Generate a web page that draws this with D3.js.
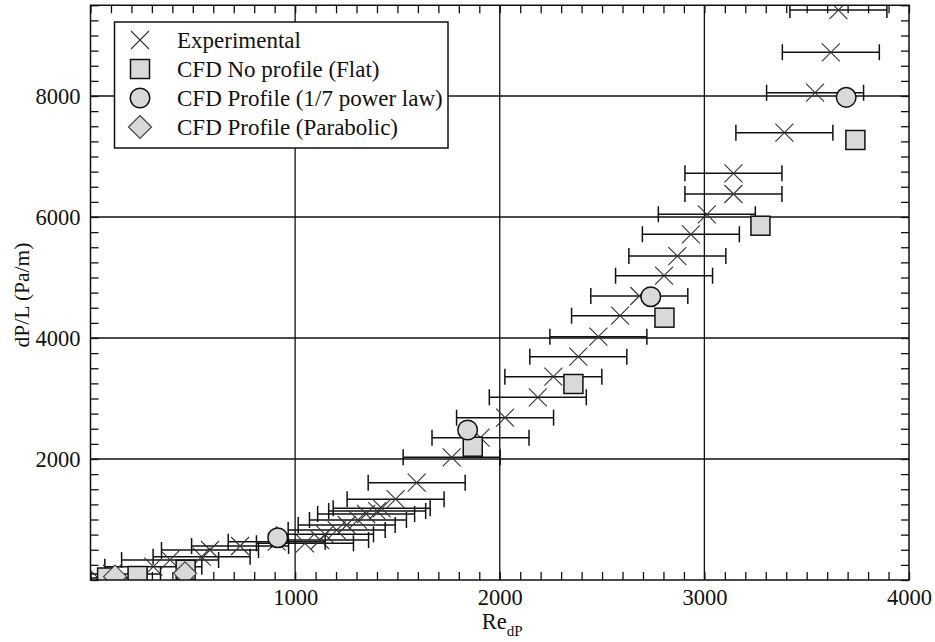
<!DOCTYPE html>
<html>
<head>
<meta charset="utf-8">
<script src="https://cdn.jsdelivr.net/npm/d3@7/dist/d3.min.js"></script>
<style>
  html, body { margin: 0; padding: 0; background: #fff; }
  svg { display: block; }
  text { font-family: 'Liberation Serif', serif; fill: #111; }
</style>
</head>
<body>
<svg id="chart" width="935" height="642"></svg>
<script>
// ---- Data ----
// Experimental points: Reynolds number and pressure gradient
const expRe = [37, 105, 307, 389, 543, 584, 731, 910, 1048, 1122, 1146, 1203, 1252, 1307, 1347, 1401, 1423, 1491, 1594, 1765, 1906, 2026, 2186, 2262, 2384, 2482, 2588, 2682, 2803, 2868, 2934, 3012, 3142, 3142, 3391, 3541, 3618, 3655];
const expDP = [33, 100, 220, 331, 385, 496, 562, 633, 607, 661, 755, 826, 909, 992, 1091, 1140, 1185, 1336, 1608, 2028, 2352, 2683, 3020, 3360, 3691, 4022, 4369, 4694, 5030, 5355, 5714, 6045, 6380, 6722, 7393, 8055, 8722, 9421];
const expErr = 237; // horizontal error bar half-width (Re units)

// CFD No profile (Flat)
const flatRe = [81, 230, 465, 1868, 2360, 2805, 3274, 3738];
const flatDP = [41, 66, 170, 2203, 3240, 4336, 5856, 7273];

// CFD Profile (1/7 power law)
const powRe = [915, 1843, 2738, 3693];
const powDP = [699, 2479, 4683, 7978];

// CFD Profile (Parabolic)
const parRe = [120, 462];
const parDP = [55, 110];

const xMajor = [1000, 2000, 3000, 4000];
const yMajor = [2000, 4000, 6000, 8000];
const legendLabels = ["Experimental", "CFD No profile (Flat)", "CFD Profile (1/7 power law)", "CFD Profile (Parabolic)"];

// ---- Chart ----
const FONT = "'Liberation Serif', serif";
const svg = d3.select("#chart");
const x = d3.scaleLinear().domain([0, 4000]).range([90.5, 909]);
const y = d3.scaleLinear().domain([0, 9500]).range([580, 5.25]);
const [x0, x1] = x.range();
const [y0, y1] = y.range();

const fillGray = "#d9d9d9";
const ink = "#111";

svg.append("defs").append("clipPath").attr("id", "plotclip")
  .append("rect").attr("x", x0).attr("y", y1).attr("width", x1 - x0).attr("height", y0 - y1);

// gridlines
const grid = svg.append("g").attr("stroke", ink).attr("stroke-width", 1.3);
grid.selectAll(".gx").data([1000, 2000, 3000]).join("line")
  .attr("x1", d => x(d)).attr("x2", d => x(d)).attr("y1", y0).attr("y2", y1);
grid.selectAll(".gy").data(yMajor).join("line")
  .attr("y1", d => y(d)).attr("y2", d => y(d)).attr("x1", x0).attr("x2", x1);

// minor ticks via axes
const xMinor = d3.range(0, 4001, 100);
const yMinor = d3.range(0, 9501, 250);
function styleAxis(g) {
  g.select(".domain").remove();
  g.selectAll(".tick line").attr("stroke", ink).attr("stroke-width", 1.3);
}
svg.append("g").attr("transform", `translate(0,${y0})`)
  .call(d3.axisBottom(x).tickValues(xMinor).tickSize(-8).tickFormat("")).call(styleAxis);
svg.append("g").attr("transform", `translate(0,${y1})`)
  .call(d3.axisTop(x).tickValues(xMinor).tickSize(-8).tickFormat("")).call(styleAxis);
svg.append("g").attr("transform", `translate(${x0},0)`)
  .call(d3.axisLeft(y).tickValues(yMinor).tickSize(-8).tickFormat("")).call(styleAxis);
svg.append("g").attr("transform", `translate(${x1},0)`)
  .call(d3.axisRight(y).tickValues(yMinor).tickSize(-8).tickFormat("")).call(styleAxis);

// tick labels
const xl = svg.append("g").attr("transform", `translate(0,${y0})`)
  .call(d3.axisBottom(x).tickValues(xMajor).tickSize(0).tickPadding(9).tickFormat(d3.format("d")));
xl.attr("font-family", FONT).attr("font-size", 22.5);
xl.select(".domain").remove();
xl.selectAll("text").style("font-family", FONT).style("font-size", "22.5px").attr("fill", ink);
const yl = svg.append("g").attr("transform", `translate(${x0},0)`)
  .call(d3.axisLeft(y).tickValues(yMajor).tickSize(0).tickPadding(10).tickFormat(d3.format("d")));
yl.attr("font-family", FONT).attr("font-size", 22.5);
yl.select(".domain").remove();
yl.selectAll("text").style("font-family", FONT).style("font-size", "22.5px").attr("fill", ink);

// axis titles
const xt = svg.append("text").attr("x", x(2000) - 18).attr("y", 629)
  .style("font-family", FONT).style("font-size", "22.5px");
xt.append("tspan").text("Re");
xt.append("tspan").attr("dy", 7).style("font-size", "15px").text("dP");
svg.append("text")
  .attr("transform", `translate(29,295) rotate(-90)`)
  .attr("text-anchor", "middle").style("font-family", FONT).style("font-size", "21.5px").text("dP/L (Pa/m)");

// data layer
const plot = svg.append("g").attr("clip-path", "url(#plotclip)");
const expData = expRe.map((r, i) => ({ r, p: expDP[i] }));

// error bars
const eb = plot.append("g").attr("stroke", ink).attr("stroke-width", 1.5);
eb.selectAll(".eb").data(expData).join("line")
  .attr("x1", d => x(d.r - expErr)).attr("x2", d => x(d.r + expErr))
  .attr("y1", d => y(d.p)).attr("y2", d => y(d.p));
eb.selectAll(".cl").data(expData).join("line")
  .attr("x1", d => x(d.r - expErr)).attr("x2", d => x(d.r - expErr))
  .attr("y1", d => y(d.p) - 8).attr("y2", d => y(d.p) + 8);
eb.selectAll(".cr").data(expData).join("line")
  .attr("x1", d => x(d.r + expErr)).attr("x2", d => x(d.r + expErr))
  .attr("y1", d => y(d.p) - 8).attr("y2", d => y(d.p) + 8);

// crosses
const crossPath = s => `M${-s},${-s}L${s},${s}M${-s},${s}L${s},${-s}`;
plot.append("g").selectAll("path").data(expData).join("path")
  .attr("transform", d => `translate(${x(d.r)},${y(d.p)})`)
  .attr("d", crossPath(9)).attr("fill", "none").attr("stroke", "#333").attr("stroke-width", 1.1);

// CFD markers
const sq = plot.append("g");
sq.selectAll("rect").data(flatRe.map((r, i) => ({ r, p: flatDP[i] }))).join("rect")
  .attr("x", d => x(d.r) - 9.5).attr("y", d => y(d.p) - 9.5).attr("width", 19).attr("height", 19)
  .attr("fill", fillGray).attr("stroke", ink).attr("stroke-width", 1.5);
plot.append("g").selectAll("circle").data(powRe.map((r, i) => ({ r, p: powDP[i] }))).join("circle")
  .attr("cx", d => x(d.r)).attr("cy", d => y(d.p)).attr("r", 9.8)
  .attr("fill", fillGray).attr("stroke", ink).attr("stroke-width", 1.5);
const diamondPath = s => `M0,${-s}L${s},0L0,${s}L${-s},0Z`;
plot.append("g").selectAll("path").data(parRe.map((r, i) => ({ r, p: parDP[i] }))).join("path")
  .attr("transform", d => `translate(${x(d.r)},${y(d.p)})`)
  .attr("d", diamondPath(11.5)).attr("fill", fillGray).attr("stroke", "#444").attr("stroke-width", 1.2);

// frame
svg.append("rect").attr("x", x0).attr("y", y1).attr("width", x1 - x0).attr("height", y0 - y1)
  .attr("fill", "none").attr("stroke", ink).attr("stroke-width", 1.5);

// legend
const lg = svg.append("g");
lg.append("rect").attr("x", 114.5).attr("y", 22).attr("width", 333.5).attr("height", 126)
  .attr("fill", "#fff").attr("stroke", ink).attr("stroke-width", 1.5);
const rows = [40, 69, 98, 127];
const symX = 140;
lg.append("path").attr("transform", `translate(${symX},${rows[0]})`).attr("d", crossPath(9))
  .attr("fill", "none").attr("stroke", "#333").attr("stroke-width", 1.1);
lg.append("rect").attr("x", symX - 9.5).attr("y", rows[1] - 9.5).attr("width", 19).attr("height", 19)
  .attr("fill", fillGray).attr("stroke", ink).attr("stroke-width", 1.5);
lg.append("circle").attr("cx", symX).attr("cy", rows[2]).attr("r", 9.8)
  .attr("fill", fillGray).attr("stroke", ink).attr("stroke-width", 1.5);
lg.append("path").attr("transform", `translate(${symX},${rows[3]})`).attr("d", diamondPath(11.5))
  .attr("fill", fillGray).attr("stroke", "#444").attr("stroke-width", 1.2);
lg.selectAll(".lt").data(legendLabels).join("text")
  .attr("x", 177).attr("y", (d, i) => rows[i] + 7.5)
  .style("font-family", FONT).style("font-size", "23px").text(d => d);
</script>
</body>
</html>
